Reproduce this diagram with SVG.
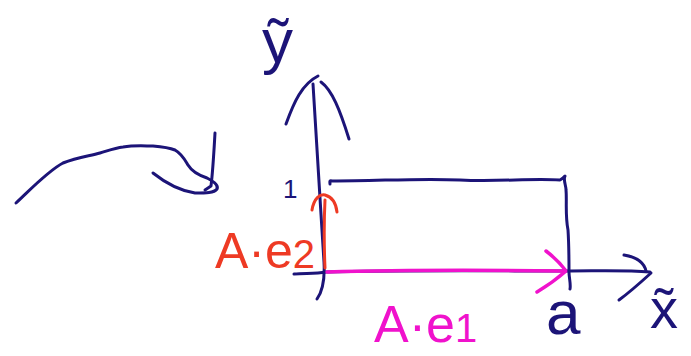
<svg xmlns="http://www.w3.org/2000/svg" width="691" height="356" viewBox="0 0 691 356">
<style>
.ink{fill:none;stroke:#1c1478;stroke-width:3;stroke-linecap:round;stroke-linejoin:round}
.red{fill:none;stroke:#ee3a24;stroke-width:3;stroke-linecap:round;stroke-linejoin:round}
.mag{fill:none;stroke:#f012cc;stroke-width:3.5;stroke-linecap:round;stroke-linejoin:round}
.t{font-family:"Liberation Sans","DejaVu Sans",sans-serif}
.tn{fill:#1c1478}.tr{fill:#ee3a24}.tm{fill:#f012cc}
</style>
<rect width="691" height="356" fill="#ffffff"/>
<g id="connectors">
  <!-- y axis -->
  <path class="ink" d="M313,84 C316,130 320,200 324,262 C325,280 322,292 317,299"/>
  <path class="ink" d="M286,124 C294,102 302,84 318,76"/>
  <path class="ink" d="M321,82 C332,90 340,110 349,139"/>
  <!-- x axis -->
  <path class="ink" d="M294,274 C305,273 315,274 326,272 C400,270 500,271 566,271 C600,271 625,270 650,272"/>
  <path class="ink" d="M624,255 C636,257 644,262 646,271"/>
  <path class="ink" d="M651,273 C640,283 630,292 619,300"/>
  <!-- pointing stroke -->
  <path class="ink" d="M16,203 C32,188 48,171 63,163 C78,157 90,156 100,153 C110,150 115,148 123,147 C135,145 145,146 153,146 C165,147 170,148 175,150 C182,154 185,160 188,165 C191,170 198,175 207,178 C213,181 219,185 217,189 C214,193 206,193 195,193 C182,191 168,185 153,173"/>
  <path class="ink" d="M215,133 C214,150 213,170 211,186 L205,190"/>
  <!-- magenta vector -->
  <path class="mag" d="M327,272 C400,270 480,270 564,271"/>
  <path class="mag" d="M546,251 C555,258 561,264 566,271 C558,278 547,286 537,292"/>
  <!-- red vector -->
  <path class="red" d="M325,268 C324,245 324,220 325,200"/>
  <path class="red" d="M312,210 C314,198 320,194 325,195 C332,197 336,203 337,212"/>
</g>
<g id="rectangle">
  <path class="ink" d="M330,184 C330,182 329,180 332,181 C380,181 420,178 460,180 C500,182 530,178 560,180 C562,179 564,177 565,176 C563,180 566,185 566,190 C567,200 565,215 568,230 C569,245 569,260 569,272 C569,278 571,284 570,289"/>
</g>
<g id="label-ytilde"><text class="t tn" x="262" y="62" font-size="62">ỹ</text></g>
<g id="label-xtilde"><text class="t tn" x="650" y="328" font-size="56">x̃</text></g>
<g id="label-one"><text class="t tn" x="283" y="198" font-size="26">1</text></g>
<g id="label-a"><text class="t tn" x="546" y="334" font-size="62">a</text></g>
<g id="label-Ae2"><text class="t tr" x="215" y="268" font-size="50">A·e<tspan font-size="40">2</tspan></text></g>
<g id="label-Ae1"><text class="t tm" x="374" y="342" font-size="52">A·e<tspan font-size="40">1</tspan></text></g>
</svg>
